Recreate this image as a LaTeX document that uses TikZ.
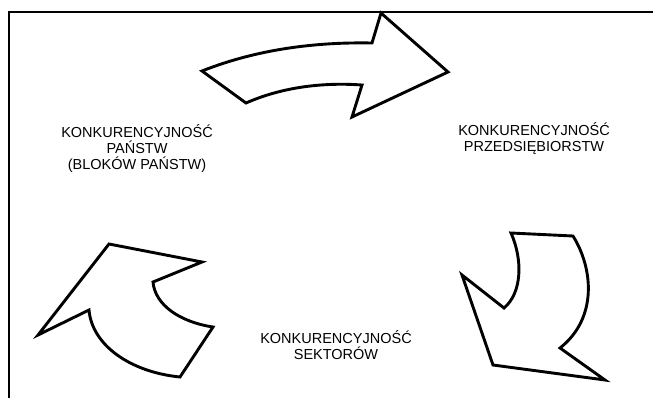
\documentclass[tikz,border=0pt]{standalone}
\usepackage{fontspec}
\setmainfont{Liberation Sans}
\usepackage{tikz}
\usetikzlibrary{positioning}
\tikzset{
  label/.style = {align=center, font=\fontsize{14.5}{15.8}\selectfont, inner sep=0pt, anchor=base},
  frame/.style = {line width=2pt, line cap=rect},
  bigarrow/.style = {draw, line width=2.9pt, line join=miter, fill=white}
}
\begin{document}
\begin{tikzpicture}[x=1pt, y=-1pt]
\useasboundingbox (0,0) rectangle (653,397);
\fill[white] (0,0) rectangle (653,397);

% open frame (left and top edge)
\draw[frame] (9,397) -- (9,12) -- (653,12);

% the three competition levels (base = last line)
\node[label] at (137,169.5) (panstw)
  {KONKURENCYJNOŚĆ\\PAŃSTW\\(BLOKÓW PAŃSTW)};
\node[label] at (534,151) (firmy)
  {KONKURENCYJNOŚĆ\\PRZEDSIĘBIORSTW};
\node[label] at (336,359.5) (sektory)
  {KONKURENCYJNOŚĆ\\SEKTORÓW};

% top arrow (states -> enterprises)
\draw[bigarrow] (202,71) .. controls (260,48) and (320,42) .. (372,43)
  -- (381,13) -- (448,72) -- (352,117) -- (362,85)
  .. controls (320,82) and (280,88) .. (246,103) -- cycle;

% right arrow (enterprises -> sectors)
\draw[bigarrow] (511,233) -- (573,236)
  .. controls (593,268) and (598,318) .. (560,348)
  -- (605,380) -- (493,365) -- (462,275) -- (504,308)
  .. controls (522,293) and (523,260) .. (511,233) -- cycle;

% left arrow (sectors -> states)
\draw[bigarrow] (109,244) -- (202,262) -- (153,282)
  .. controls (155,305) and (180,322) .. (213,327)
  -- (180,377) .. controls (130,372) and (92,345) .. (89,310)
  -- (38,335) -- cycle;
\end{tikzpicture}
\end{document}
